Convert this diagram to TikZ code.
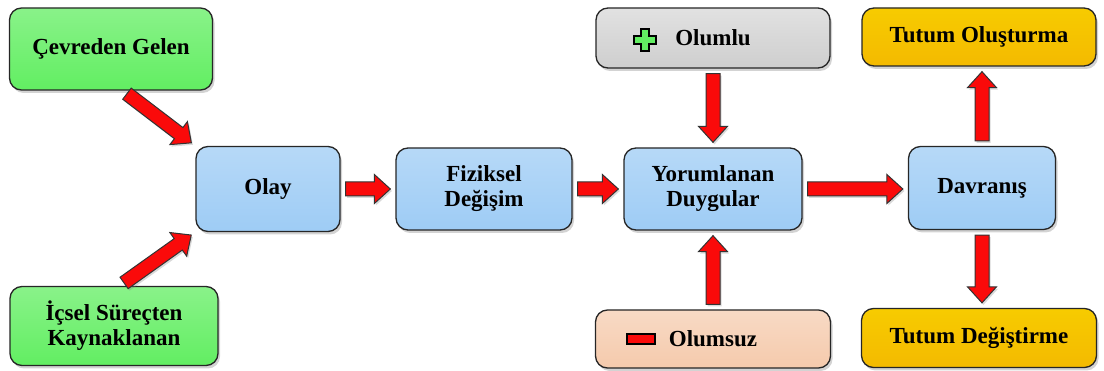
\documentclass[tikz,border=0pt]{standalone}
\usepackage{fontspec}
\setmainfont{Liberation Serif}
\usetikzlibrary{calc, shadows}

\definecolor{boxgreen}{RGB}{98,238,98}
\definecolor{boxblue}{RGB}{158,204,245}
\definecolor{boxgray}{RGB}{206,206,206}
\definecolor{boxpeach}{RGB}{245,202,172}
\definecolor{boxgold}{RGB}{244,186,0}
\definecolor{arrowred}{RGB}{250,10,10}

% block arrow sizes
\def\bagap{5pt}
\def\bashaft{7pt}
\def\bahw{14.5pt}
\def\bahead{16pt}

\newcommand{\blockarrow}[2]{%
    \path ($(#1)!\bagap!(#2)$) coordinate (ba-s)
          ($(#2)!\bagap!(#1)$) coordinate (ba-e);
    \path ($(ba-e)!\bahead!(ba-s)$) coordinate (ba-h);
    \draw[blockarrow] ($(ba-s)!\bashaft!90:(ba-e)$)
        -- ($(ba-h)!\bashaft!-90:(ba-s)$)
        -- ($(ba-h)!\bahw!-90:(ba-s)$)
        -- (ba-e)
        -- ($(ba-h)!\bahw!90:(ba-s)$)
        -- ($(ba-h)!\bashaft!90:(ba-s)$)
        -- ($(ba-s)!\bashaft!-90:(ba-e)$) -- cycle;
}

\tikzset{
    box/.style={draw=black!85, line width=1.3pt, rounded corners=12pt,
        font=\fontsize{23}{25}\selectfont\bfseries, align=center, inner sep=2pt,
        drop shadow={shadow xshift=2pt, shadow yshift=-3pt, opacity=0.35}},
    greenbox/.style={box, top color=boxgreen!75!white, bottom color=boxgreen},
    bluebox/.style={box, top color=boxblue!75!white, bottom color=boxblue},
    graybox/.style={box, top color=boxgray!60!white, bottom color=boxgray},
    peachbox/.style={box, top color=boxpeach!70!white, bottom color=boxpeach},
    goldbox/.style={box, top color=boxgold!75!yellow, bottom color=boxgold},
    blockarrow/.style={draw=black!80, line width=1pt, fill=arrowred,
        drop shadow={shadow xshift=1.5pt, shadow yshift=-2pt, opacity=0.3}},
    plusicon/.style={draw=black, line width=1.5pt, fill=boxgreen},
    minusicon/.style={draw=black, line width=1.5pt, fill=arrowred},
}

\begin{document}
\begin{tikzpicture}[x=1pt, y=-1pt]
    \useasboundingbox (0,0) rectangle (1104,371);

    % sources
    \node[greenbox, minimum width=203pt, minimum height=82pt] (cevre) at (111,49) {Çevreden Gelen};
    \node[greenbox, minimum width=208pt, minimum height=79pt] (icsel) at (114,326) {İçsel Süreçten\\Kaynaklanan};

    % main chain
    \node[bluebox, minimum width=144pt, minimum height=85pt] (olay) at (268,189) {Olay};
    \node[bluebox, minimum width=176pt, minimum height=82pt] (fiziksel) at (484,189) {Fiziksel\\Değişim};
    \node[bluebox, minimum width=178pt, minimum height=82pt] (yorum) at (713,189) {Yorumlanan\\Duygular};
    \node[bluebox, minimum width=147pt, minimum height=83pt] (davranis) at (982,188) {Davranış};

    % feelings
    \node[graybox, minimum width=234pt, minimum height=60pt] (olumlu) at (713,38) {Olumlu};
    \node[peachbox, minimum width=235pt, minimum height=58pt] (olumsuz) at (713,339) {Olumsuz};

    % attitudes
    \node[goldbox, minimum width=234pt, minimum height=58pt] (olustur) at (979,37) {Tutum Oluşturma};
    \node[goldbox, minimum width=235pt, minimum height=59pt] (degistir) at (979,338) {Tutum Değiştirme};

    % icons
    \draw[plusicon] ([xshift=-68pt,yshift=-2pt]olumlu.center) ++(-4,-11) -- ++(8,0) -- ++(0,7)
        -- ++(7,0) -- ++(0,8) -- ++(-7,0) -- ++(0,7) -- ++(-8,0) -- ++(0,-7)
        -- ++(-7,0) -- ++(0,-8) -- ++(7,0) -- cycle;
    \draw[minusicon] ([xshift=-72pt]olumsuz.center) ++(-14,-5) rectangle ++(28,10);

    % arrows
    \coordinate (cevre-out) at ($(cevre.south)+(12,0)$);
    \coordinate (icsel-out) at ($(icsel.north)+(6,0)$);
    \blockarrow{cevre-out}{olay.north west}
    \blockarrow{icsel-out}{olay.south west}
    \blockarrow{olay.east}{fiziksel.west}
    \blockarrow{fiziksel.east}{yorum.west}
    \blockarrow{yorum.east}{yorum.east -| davranis.west}
    \blockarrow{olumlu.south}{yorum.north}
    \blockarrow{olumsuz.north}{yorum.south}
    \blockarrow{davranis.north}{davranis.north |- olustur.south}
    \blockarrow{davranis.south}{davranis.south |- degistir.north}
\end{tikzpicture}
\end{document}
